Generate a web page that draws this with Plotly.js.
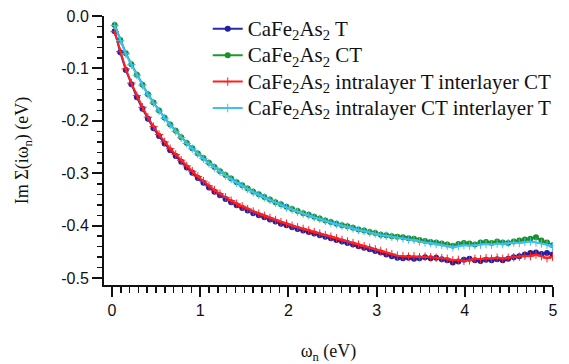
<!DOCTYPE html>
<html>
<head>
<meta charset="utf-8">
<script src="https://cdn.plot.ly/plotly-3.0.1.min.js"></script>
<style>html,body{margin:0;padding:0;background:#fff;}#chart{width:569px;height:364px;}</style>
</head>
<body>
<div id="chart"></div>
<script>
// Matsubara frequencies (eV)
const omega = [0.031,0.094,0.157,0.220,0.283,0.346,0.408,0.471,0.534,0.597,0.660,0.723,0.785,0.848,0.911,0.974,1.037,1.100,1.162,1.225,1.288,1.351,1.414,1.477,1.539,1.602,1.665,1.728,1.791,1.854,1.916,1.979,2.042,2.105,2.168,2.231,2.293,2.356,2.419,2.482,2.545,2.608,2.670,2.733,2.796,2.859,2.922,2.985,3.047,3.110,3.173,3.236,3.299,3.362,3.424,3.487,3.550,3.613,3.676,3.739,3.801,3.864,3.927,3.990,4.053,4.115,4.178,4.241,4.304,4.367,4.430,4.492,4.555,4.618,4.681,4.744,4.807,4.869,4.932,4.995];

const seriesT = [-0.029,-0.069,-0.103,-0.130,-0.155,-0.177,-0.196,-0.214,-0.229,-0.243,-0.256,-0.267,-0.278,-0.289,-0.299,-0.309,-0.318,-0.327,-0.335,-0.342,-0.349,-0.355,-0.361,-0.366,-0.371,-0.376,-0.380,-0.384,-0.388,-0.392,-0.396,-0.399,-0.403,-0.406,-0.409,-0.412,-0.415,-0.418,-0.421,-0.424,-0.427,-0.430,-0.433,-0.436,-0.439,-0.442,-0.445,-0.448,-0.451,-0.455,-0.458,-0.461,-0.462,-0.461,-0.463,-0.462,-0.460,-0.462,-0.461,-0.464,-0.466,-0.470,-0.468,-0.465,-0.463,-0.466,-0.467,-0.465,-0.466,-0.464,-0.466,-0.463,-0.460,-0.458,-0.455,-0.452,-0.451,-0.454,-0.452,-0.455];

const seriesCT = [-0.017,-0.046,-0.071,-0.092,-0.112,-0.131,-0.149,-0.165,-0.180,-0.194,-0.207,-0.219,-0.231,-0.242,-0.252,-0.262,-0.271,-0.280,-0.288,-0.296,-0.303,-0.310,-0.317,-0.323,-0.329,-0.335,-0.340,-0.345,-0.350,-0.355,-0.359,-0.364,-0.368,-0.372,-0.376,-0.379,-0.383,-0.386,-0.390,-0.393,-0.396,-0.399,-0.401,-0.404,-0.407,-0.409,-0.412,-0.414,-0.417,-0.418,-0.420,-0.421,-0.422,-0.424,-0.425,-0.427,-0.429,-0.431,-0.432,-0.434,-0.436,-0.438,-0.435,-0.433,-0.434,-0.436,-0.432,-0.431,-0.433,-0.430,-0.432,-0.433,-0.430,-0.428,-0.426,-0.425,-0.422,-0.428,-0.432,-0.437];

const seriesIntraT = [-0.030,-0.068,-0.101,-0.128,-0.152,-0.174,-0.193,-0.211,-0.226,-0.240,-0.253,-0.264,-0.275,-0.286,-0.296,-0.306,-0.315,-0.324,-0.332,-0.339,-0.346,-0.352,-0.358,-0.363,-0.368,-0.373,-0.377,-0.381,-0.385,-0.389,-0.393,-0.396,-0.400,-0.403,-0.406,-0.409,-0.412,-0.415,-0.418,-0.421,-0.424,-0.427,-0.430,-0.433,-0.436,-0.439,-0.442,-0.445,-0.448,-0.451,-0.454,-0.457,-0.458,-0.459,-0.458,-0.460,-0.459,-0.460,-0.461,-0.462,-0.463,-0.466,-0.465,-0.467,-0.466,-0.463,-0.464,-0.462,-0.463,-0.461,-0.463,-0.461,-0.460,-0.459,-0.457,-0.458,-0.455,-0.458,-0.462,-0.459];

const seriesIntraCT = [-0.018,-0.047,-0.072,-0.093,-0.113,-0.132,-0.150,-0.166,-0.181,-0.195,-0.208,-0.220,-0.232,-0.243,-0.253,-0.263,-0.272,-0.281,-0.289,-0.297,-0.304,-0.311,-0.318,-0.324,-0.330,-0.336,-0.341,-0.346,-0.351,-0.356,-0.360,-0.365,-0.369,-0.373,-0.377,-0.380,-0.384,-0.387,-0.391,-0.394,-0.397,-0.400,-0.402,-0.405,-0.408,-0.410,-0.413,-0.415,-0.418,-0.419,-0.421,-0.423,-0.424,-0.426,-0.427,-0.430,-0.432,-0.433,-0.435,-0.437,-0.438,-0.441,-0.439,-0.437,-0.438,-0.437,-0.436,-0.435,-0.436,-0.434,-0.435,-0.433,-0.432,-0.433,-0.431,-0.430,-0.432,-0.434,-0.436,-0.440];

const seriesNames = [
  'CaFe<sub>2</sub>As<sub>2</sub> T',
  'CaFe<sub>2</sub>As<sub>2</sub> CT',
  'CaFe<sub>2</sub>As<sub>2</sub> intralayer T interlayer CT',
  'CaFe<sub>2</sub>As<sub>2</sub> intralayer CT interlayer T'
];

const xTickVals = [0,1,2,3,4,5];
const xTickText = ['0','1','2','3','4','5'];
const yTickVals = [0,-0.1,-0.2,-0.3,-0.4,-0.5];
const yTickText = ['0.0','-0.1','-0.2','-0.3','-0.4','-0.5'];

// larger glyphs inside a tighter legend row
const big = s => '<span style="font-size:21px">' + s + '</span>';

const traces = [
  {x: omega, y: seriesT, name: big(seriesNames[0]), mode: 'lines+markers',
   line: {color: '#2a2ab0', width: 2}, marker: {symbol: 'circle', size: 6, color: '#2020a0'}},
  {x: omega, y: seriesCT, name: big(seriesNames[1]), mode: 'lines+markers',
   line: {color: '#1f9a2a', width: 2}, marker: {symbol: 'circle', size: 6, color: '#1a9026'}},
  {x: omega, y: seriesIntraT, name: big(seriesNames[2]), mode: 'lines+markers',
   line: {color: '#ff2020', width: 2}, marker: {symbol: 'cross-thin', size: 6, color: '#ff2020', line: {width: 1, color: '#ff2020'}}},
  {x: omega, y: seriesIntraCT, name: big(seriesNames[3]), mode: 'lines+markers',
   line: {color: '#40bff0', width: 2}, marker: {symbol: 'cross-thin', size: 6, color: '#40bff0', line: {width: 1, color: '#40bff0'}}}
];

const axisFont = {family: 'Liberation Sans, Arial, sans-serif', size: 16, color: '#111'};
const titleFont = {family: 'Liberation Serif, Times New Roman, serif', size: 18, color: '#111'};

const layout = {
  width: 569, height: 364,
  margin: {l: 104, r: 16, t: 16, b: 79, autoexpand: false},
  paper_bgcolor: '#fff', plot_bgcolor: '#fff',
  showlegend: true,
  legend: {x: 0.231, y: 1.02, xanchor: 'left', yanchor: 'top', bgcolor: 'rgba(0,0,0,0)',
           font: {family: 'Liberation Serif, Times New Roman, serif', size: 18, color: '#111'},
           itemwidth: 30, tracegroupgap: 0},
  xaxis: {range: [-0.09, 5.0], tickvals: xTickVals, ticktext: xTickText,
          showline: true, linecolor: '#111', linewidth: 2, mirror: false,
          ticks: 'outside', ticklen: 10, tickwidth: 2, tickcolor: '#111',
          minor: {dtick: 0.1, tick0: 0, ticks: 'outside', ticklen: 6, tickwidth: 1.5, tickcolor: '#111', showgrid: false},
          showgrid: false, zeroline: false, tickfont: axisFont,
          title: {text: 'ω<sub>n</sub> (eV)', font: titleFont, standoff: 26}},
  yaxis: {range: [-0.513, 0.0], tickvals: yTickVals, ticktext: yTickText,
          showline: true, linecolor: '#111', linewidth: 2, mirror: false,
          ticks: 'outside', ticklen: 10, tickwidth: 2, tickcolor: '#111',
          minor: {dtick: 0.02, tick0: 0, ticks: 'outside', ticklen: 5, tickwidth: 1.5, tickcolor: '#111', showgrid: false},
          showgrid: false, zeroline: false, tickfont: axisFont,
          title: {text: 'Im Σ(iω<sub>n</sub>) (eV)', font: titleFont, standoff: 28}}
};

Plotly.newPlot('chart', traces, layout, {staticPlot: true, displayModeBar: false});
</script>
</body>
</html>
